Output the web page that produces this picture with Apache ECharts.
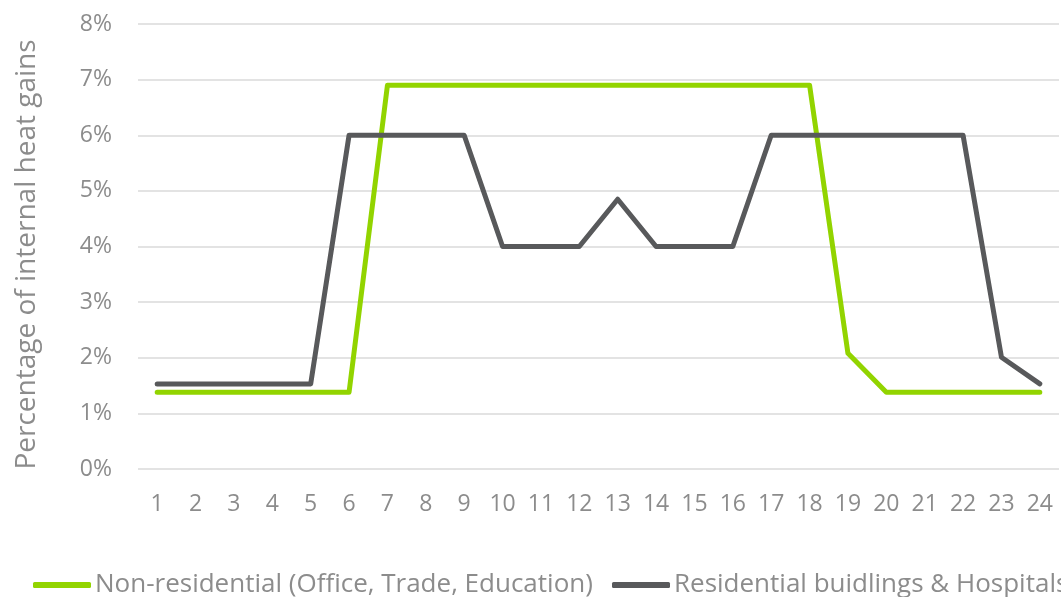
<!DOCTYPE html>
<html><head><meta charset="utf-8">
<script src="https://cdn.jsdelivr.net/npm/echarts@6/dist/echarts.min.js"></script>
<style>html,body{margin:0;padding:0;background:#fff}#c{width:1061px;height:597px}</style>
</head><body><div id="c"></div>
<script>
const hours = ['1','2','3','4','5','6','7','8','9','10','11','12','13','14','15','16','17','18','19','20','21','22','23','24'];
const nonResidential = [1.38,1.38,1.38,1.38,1.38,1.38,6.9,6.9,6.9,6.9,6.9,6.9,6.9,6.9,6.9,6.9,6.9,6.9,2.08,1.38,1.38,1.38,1.38,1.38];
const residential = [1.53,1.53,1.53,1.53,1.53,6,6,6,6,4,4,4,4.85,4,4,4,6,6,6,6,6,6,2.01,1.53];
const seriesNames = ['Non-residential (Office, Trade, Education)','Residential buidlings & Hospitals'];
const yTicks = [0,1,2,3,4,5,6,7,8];

const chart = echarts.init(document.getElementById('c'), null, {renderer:'canvas'});
const font = 'Open Sans';
const legendBase = {
  top:567,itemWidth:58,itemHeight:6,icon:'roundRect',width:700,
  textStyle:{color:'#8c8c8c',fontSize:26,fontFamily:font,padding:[0,0,0,-1]}
};
chart.setOption({
  animation:false,
  grid:{left:138,right:2,top:24,bottom:128},
  legend:[
    Object.assign({}, legendBase, {left:28, data:[seriesNames[0]]}),
    Object.assign({}, legendBase, {left:607, data:[seriesNames[1]]})
  ],
  xAxis:{
    type:'category',data:hours,boundaryGap:true,
    axisLine:{show:false},axisTick:{show:false},
    axisLabel:{color:'#8c8c8c',fontSize:23,fontFamily:font,margin:24}
  },
  yAxis:{
    type:'value',min:yTicks[0],max:yTicks[yTicks.length-1],interval:1,
    name:'Percentage of internal heat gains',nameLocation:'middle',nameGap:97,
    nameTextStyle:{color:'#8c8c8c',fontSize:28,fontFamily:font,padding:[0,16,0,0]},
    axisLine:{show:false},axisTick:{show:false},
    axisLabel:{color:'#8c8c8c',fontSize:23,fontFamily:font,margin:26,formatter:v=>v+'%'},
    splitLine:{lineStyle:{color:'#e3e3e3',width:2}}
  },
  series:[
    {name:seriesNames[0],type:'line',data:nonResidential,showSymbol:false,symbol:'none',
     lineStyle:{color:'#92d400',width:5,cap:'round',join:'round'},itemStyle:{color:'#92d400'}},
    {name:seriesNames[1],type:'line',data:residential,showSymbol:false,symbol:'none',
     lineStyle:{color:'#58595b',width:5,cap:'round',join:'round'},itemStyle:{color:'#58595b'}}
  ]
});
</script></body></html>
